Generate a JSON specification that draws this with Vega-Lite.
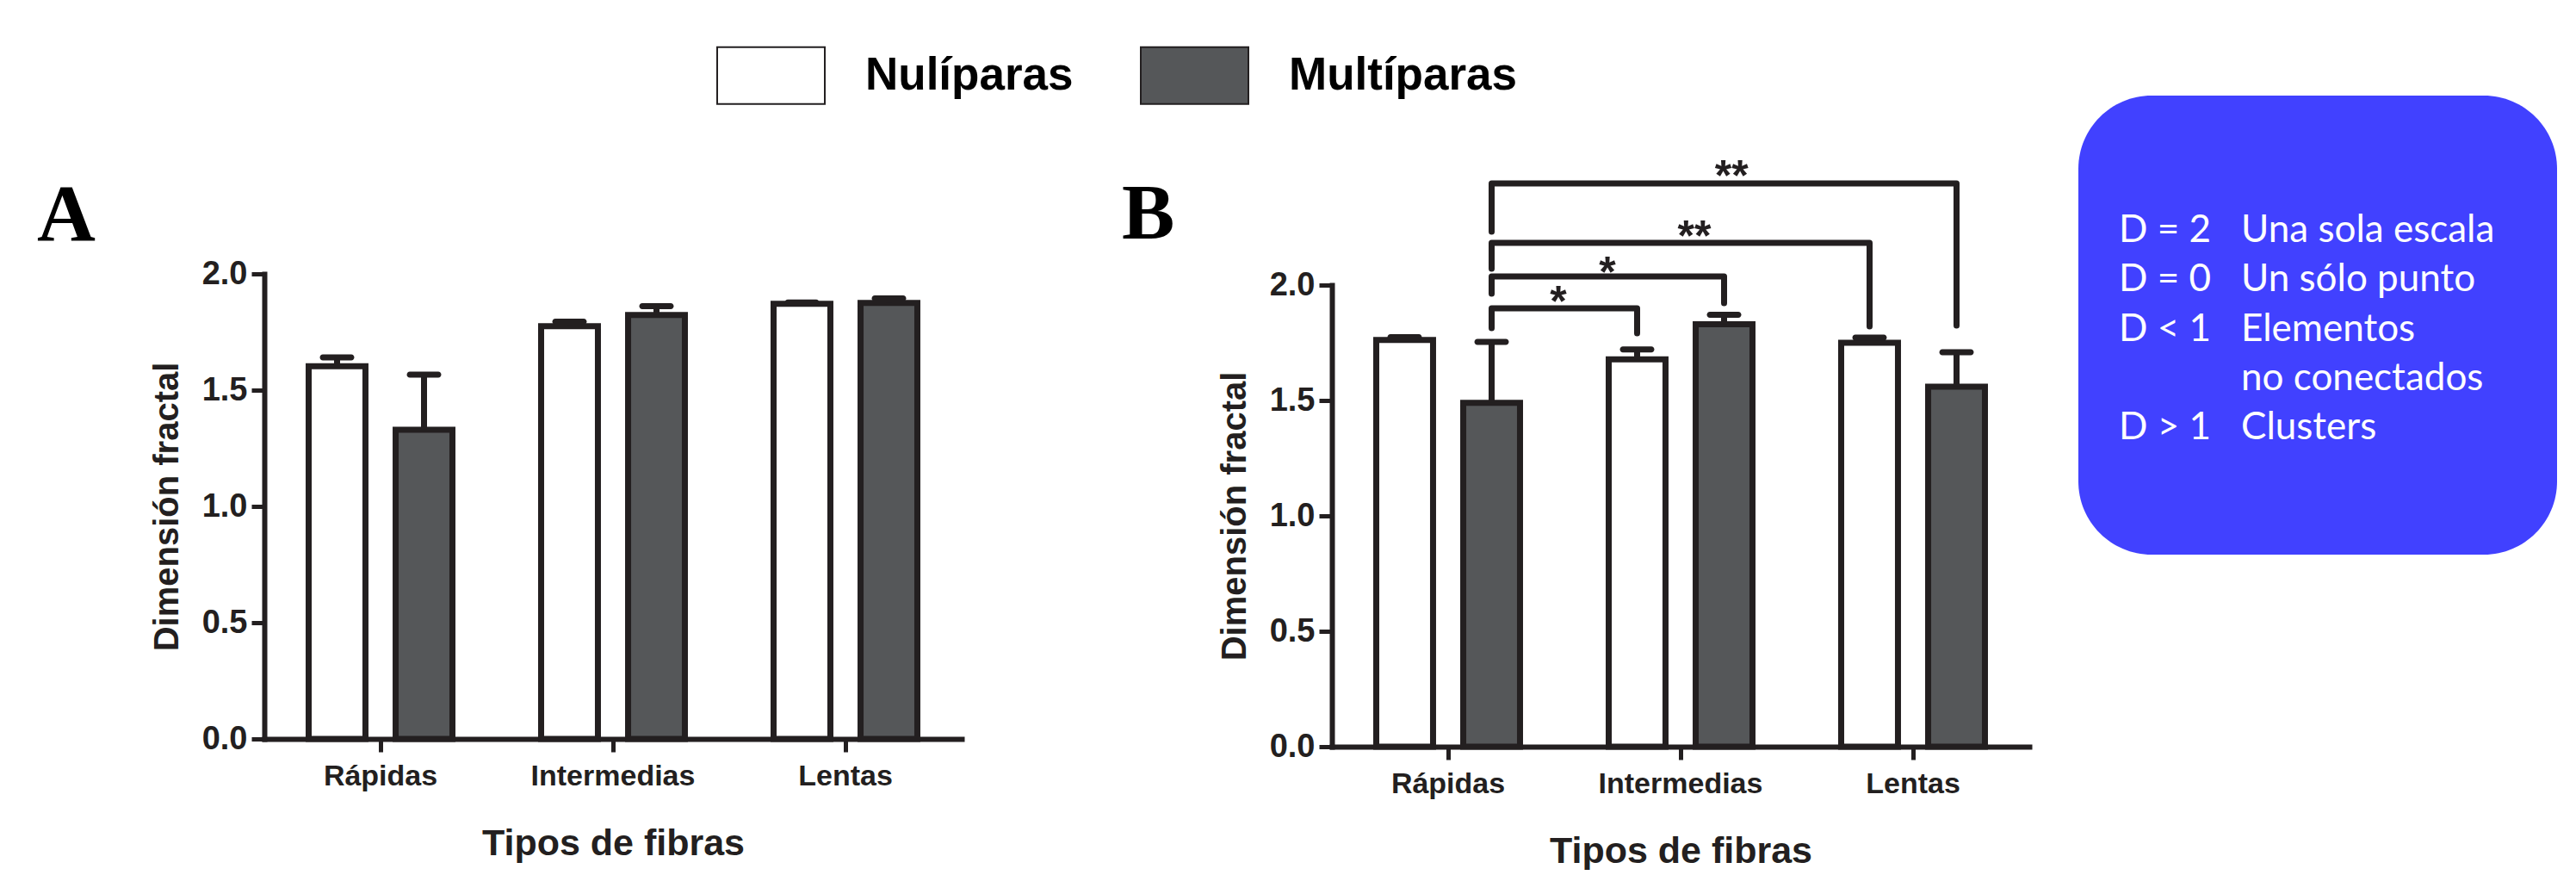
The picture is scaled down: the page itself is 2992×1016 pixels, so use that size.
{
  "$schema": "https://vega.github.io/schema/vega-lite/v6.json",
  "background": "white",
  "padding": {"left": 43, "top": 24, "right": 22, "bottom": 0},
  "bounds": "flush",
  "spacing": 57,
  "config": {
    "font": "Liberation Sans",
    "view": {"stroke": null},
    "axis": {
      "grid": false,
      "domainColor": "#231f20",
      "domainWidth": 6,
      "domainCap": "square",
      "tickColor": "#231f20",
      "tickWidth": 5,
      "tickSize": 15,
      "labelColor": "#231f20",
      "titleColor": "#231f20",
      "labelFontWeight": "bold",
      "titleFontWeight": "bold",
      "labelLimit": 0
    },
    "axisX": {
      "labelFont": "Liberation Sans",
      "labelFontSize": 34,
      "labelPadding": 11,
      "labelAngle": 0,
      "titleFont": "Liberation Sans",
      "titleFontSize": 43,
      "titlePadding": 40
    },
    "axisY": {
      "labelFont": "Liberation Sans",
      "labelFontSize": 38,
      "labelPadding": 5,
      "titleFont": "Liberation Sans",
      "titleFontSize": 40,
      "titlePadding": 20
    },
    "legend": {"labelLimit": 0},
    "title": {
      "font": "Liberation Serif",
      "fontWeight": "bold",
      "color": "black",
      "anchor": "start",
      "frame": "group",
      "offset": 0,
      "baseline": "alphabetic"
    }
  },
  "datasets": {
    "panelA": [
      {"fibra": "Rápidas", "grupo": "Nulíparas", "media": 1.603, "limite_sup": 1.641},
      {"fibra": "Rápidas", "grupo": "Multíparas", "media": 1.330, "limite_sup": 1.567},
      {"fibra": "Intermedias", "grupo": "Nulíparas", "media": 1.775, "limite_sup": 1.794},
      {"fibra": "Intermedias", "grupo": "Multíparas", "media": 1.823, "limite_sup": 1.861},
      {"fibra": "Lentas", "grupo": "Nulíparas", "media": 1.871, "limite_sup": 1.877},
      {"fibra": "Lentas", "grupo": "Multíparas", "media": 1.875, "limite_sup": 1.894}
    ],
    "panelB": [
      {"fibra": "Rápidas", "grupo": "Nulíparas", "media": 1.762, "limite_sup": 1.774},
      {"fibra": "Rápidas", "grupo": "Multíparas", "media": 1.490, "limite_sup": 1.754},
      {"fibra": "Intermedias", "grupo": "Nulíparas", "media": 1.678, "limite_sup": 1.721},
      {"fibra": "Intermedias", "grupo": "Multíparas", "media": 1.830, "limite_sup": 1.871},
      {"fibra": "Lentas", "grupo": "Nulíparas", "media": 1.750, "limite_sup": 1.772},
      {"fibra": "Lentas", "grupo": "Multíparas", "media": 1.560, "limite_sup": 1.709}
    ],
    "corchetes": [
      {"corchete": 1, "orden": 1, "fibra": "Rápidas", "grupo": "Multíparas", "altura": 1.813},
      {"corchete": 1, "orden": 2, "fibra": "Rápidas", "grupo": "Multíparas", "altura": 1.899},
      {"corchete": 1, "orden": 3, "fibra": "Intermedias", "grupo": "Nulíparas", "altura": 1.899},
      {"corchete": 1, "orden": 4, "fibra": "Intermedias", "grupo": "Nulíparas", "altura": 1.791},
      {"corchete": 2, "orden": 1, "fibra": "Rápidas", "grupo": "Multíparas", "altura": 1.963},
      {"corchete": 2, "orden": 2, "fibra": "Rápidas", "grupo": "Multíparas", "altura": 2.037},
      {"corchete": 2, "orden": 3, "fibra": "Intermedias", "grupo": "Multíparas", "altura": 2.037},
      {"corchete": 2, "orden": 4, "fibra": "Intermedias", "grupo": "Multíparas", "altura": 1.922},
      {"corchete": 3, "orden": 1, "fibra": "Rápidas", "grupo": "Multíparas", "altura": 2.071},
      {"corchete": 3, "orden": 2, "fibra": "Rápidas", "grupo": "Multíparas", "altura": 2.183},
      {"corchete": 3, "orden": 3, "fibra": "Lentas", "grupo": "Nulíparas", "altura": 2.183},
      {"corchete": 3, "orden": 4, "fibra": "Lentas", "grupo": "Nulíparas", "altura": 1.821},
      {"corchete": 4, "orden": 1, "fibra": "Rápidas", "grupo": "Multíparas", "altura": 2.231},
      {"corchete": 4, "orden": 2, "fibra": "Rápidas", "grupo": "Multíparas", "altura": 2.440},
      {"corchete": 4, "orden": 3, "fibra": "Lentas", "grupo": "Multíparas", "altura": 2.440},
      {"corchete": 4, "orden": 4, "fibra": "Lentas", "grupo": "Multíparas", "altura": 1.825}
    ],
    "estrellas": [
      {"corchete": 1, "posicion": 0.974, "altura": 1.864, "signif": "*"},
      {"corchete": 2, "posicion": 1.185, "altura": 1.991, "signif": "*"},
      {"corchete": 3, "posicion": 1.559, "altura": 2.151, "signif": "**"},
      {"corchete": 4, "posicion": 1.719, "altura": 2.412, "signif": "**"}
    ],
    "cuadro": [
      {"fila": 1, "columna": "símbolo", "texto": "D = 2"},
      {"fila": 1, "columna": "significado", "texto": "Una sola escala"},
      {"fila": 2, "columna": "símbolo", "texto": "D = 0"},
      {"fila": 2, "columna": "significado", "texto": "Un sólo punto"},
      {"fila": 3, "columna": "símbolo", "texto": "D < 1"},
      {"fila": 3, "columna": "significado", "texto": "Elementos"},
      {"fila": 4, "columna": "significado", "texto": "no conectados"},
      {"fila": 5, "columna": "símbolo", "texto": "D > 1"},
      {"fila": 5, "columna": "significado", "texto": "Clusters"}
    ]
  },
  "hconcat": [
    {
      "width": 1183,
      "height": 747,
      "title": {"text": "A", "fontSize": 94, "dx": -264, "dy": 192},
      "data": {"name": "panelA"},
      "encoding": {
        "x": {"field": "fibra", "type": "nominal", "sort": null,
              "scale": {"domain": ["Rápidas", "Intermedias", "Lentas"], "range": [0, 810], "paddingInner": 0, "paddingOuter": 0},
              "axis": {"title": "Tipos de fibras"}},
        "xOffset": {"field": "grupo", "type": "nominal", "sort": null,
                    "scale": {"domain": ["Nulíparas", "Multíparas"], "paddingInner": 0.347, "paddingOuter": 0.51}},
        "y": {"field": "media", "type": "quantitative",
              "scale": {"domain": [0, 2], "range": [747, 207], "nice": false},
              "axis": {"title": "Dimensión fractal", "values": [0, 0.5, 1, 1.5, 2], "format": ".1f"}}
      },
      "layer": [
        {
          "mark": {"type": "bar", "stroke": "#231f20", "strokeWidth": 7},
          "encoding": {
            "fill": {"field": "grupo", "type": "nominal", "sort": null,
                     "scale": {"domain": ["Nulíparas", "Multíparas"], "range": ["#ffffff", "#555759"]},
                     "legend": {"orient": "none", "legendX": 525, "legendY": -87, "direction": "horizontal", "title": null,
                                "symbolType": "M-1,-0.528H1V0.528H-1Z", "symbolSize": 15625,
                                "symbolStrokeColor": "#231f20", "symbolStrokeWidth": 2,
                                "labelFont": "Liberation Sans", "labelFontSize": 53,
                                "labelFontWeight": "bold", "labelColor": "black", "labelOffset": 46, "columnPadding": 74, "padding": 0, "labelLimit": 0}}
          }
        },
        {
          "mark": {"type": "rule", "strokeWidth": 7, "color": "#231f20"},
          "encoding": {"y2": {"field": "limite_sup"}}
        },
        {
          "mark": {"type": "tick", "size": 40, "thickness": 7, "color": "#231f20", "cornerRadius": 3.5, "opacity": 1},
          "encoding": {"y": {"field": "limite_sup", "type": "quantitative"}}
        }
      ]
    },
    {
      "width": 810,
      "height": 756,
      "title": {"text": "B", "fontSize": 92, "dx": -244, "dy": 189},
      "resolve": {"scale": {"x": "independent"}, "axis": {"x": "independent"}},
      "layer": [
        {
          "encoding": {
            "x": {"field": "fibra", "type": "nominal", "sort": null,
                  "scale": {"domain": ["Rápidas", "Intermedias", "Lentas"], "range": [0, 810], "paddingInner": 0, "paddingOuter": 0},
                  "axis": {"title": "Tipos de fibras"}},
            "xOffset": {"field": "grupo", "type": "nominal", "sort": null,
                        "scale": {"domain": ["Nulíparas", "Multíparas"], "paddingInner": 0.347, "paddingOuter": 0.51}},
            "y": {"field": "media", "type": "quantitative",
                  "scale": {"domain": [0, 2], "range": [756, 220], "nice": false},
                  "axis": {"title": "Dimensión fractal", "values": [0, 0.5, 1, 1.5, 2], "format": ".1f"}}
          },
          "layer": [
            {
              "data": {"name": "panelB"},
              "mark": {"type": "bar", "stroke": "#231f20", "strokeWidth": 7},
              "encoding": {
                "fill": {"field": "grupo", "type": "nominal", "sort": null,
                         "scale": {"domain": ["Nulíparas", "Multíparas"], "range": ["#ffffff", "#555759"]},
                         "legend": {"orient": "none", "legendX": 525, "legendY": -87, "direction": "horizontal", "title": null,
                                    "symbolType": "M-1,-0.528H1V0.528H-1Z", "symbolSize": 15625,
                                    "symbolStrokeColor": "#231f20", "symbolStrokeWidth": 2,
                                    "labelFont": "Liberation Sans", "labelFontSize": 53,
                                    "labelFontWeight": "bold", "labelColor": "black", "labelOffset": 46, "columnPadding": 74, "padding": 0, "labelLimit": 0}}
              }
            },
            {
              "data": {"name": "panelB"},
              "mark": {"type": "rule", "strokeWidth": 7, "color": "#231f20"},
              "encoding": {"y2": {"field": "limite_sup"}}
            },
            {
              "data": {"name": "panelB"},
              "mark": {"type": "tick", "size": 40, "thickness": 7, "color": "#231f20", "cornerRadius": 3.5, "opacity": 1},
              "encoding": {"y": {"field": "limite_sup", "type": "quantitative"}}
            },
            {
              "data": {"name": "corchetes"},
              "mark": {"type": "line", "strokeWidth": 7, "color": "#231f20", "strokeCap": "round", "strokeJoin": "round"},
              "encoding": {
                "y": {"field": "altura", "type": "quantitative"},
                "detail": {"field": "corchete", "type": "nominal"},
                "order": {"field": "orden", "type": "quantitative"}
              }
            }
          ]
        },
        {
          "data": {"name": "estrellas"},
          "mark": {"type": "text", "align": "center", "baseline": "alphabetic", "font": "Liberation Sans", "fontWeight": "bold", "fontSize": 50, "color": "#231f20"},
          "encoding": {
            "x": {"field": "posicion", "type": "quantitative", "scale": {"domain": [0, 3], "nice": false, "zero": false}, "axis": null},
            "y": {"field": "altura", "type": "quantitative"},
            "text": {"field": "signif"}
          }
        }
      ]
    },
    {
      "width": 556,
      "height": 533,
      "view": {"fill": "#4141ff", "cornerRadius": 85, "stroke": null},
      "data": {"name": "cuadro"},
      "mark": {"type": "text", "align": "left", "baseline": "alphabetic", "color": "white", "font": "Lato", "fontSize": 44},
      "encoding": {
        "x": {"field": "columna", "type": "nominal", "sort": null,
              "scale": {"type": "point", "domain": ["símbolo", "significado"], "range": [47, 189], "padding": 0}, "axis": null},
        "y": {"field": "fila", "type": "ordinal",
              "scale": {"type": "point", "range": [170, 399], "padding": 0}, "axis": null},
        "text": {"field": "texto"}
      }
    }
  ]
}
